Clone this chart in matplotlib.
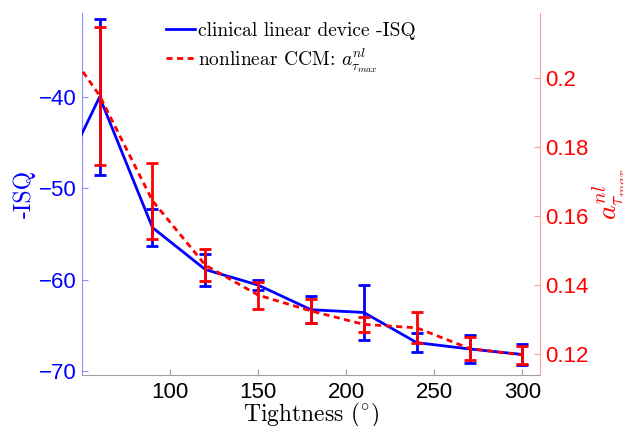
import matplotlib
matplotlib.use("Agg")
import matplotlib.pyplot as plt

plt.rcParams['mathtext.fontset'] = 'cm'
plt.rcParams['axes.formatter.use_mathtext'] = False

tightness = [30, 60, 90, 120, 150, 180, 210, 240, 270, 300]
isq = [-52.0, -40.0, -54.3, -58.9, -60.6, -63.3, -63.6, -66.9, -67.6, -68.2]
isq_err = [0, 8.5, 2.05, 1.75, 0.55, 1.5, 3.0, 1.0, 1.5, 1.1]
anl = [0.217, 0.195, 0.1645, 0.1458, 0.1371, 0.1325, 0.1286, 0.1276, 0.1216, 0.1197]
anl_err = [0, 0.020, 0.011, 0.0046, 0.0039, 0.0036, 0.0022, 0.0045, 0.0032, 0.0027]
xticks = [100, 150, 200, 250, 300]
left_ticks = [-70, -60, -50, -40]
right_ticks = [0.12, 0.14, 0.16, 0.18, 0.2]

tick_font = 'Liberation Sans'
cm_font = 'cmr10'

fig = plt.figure(figsize=(6.23, 4.26), dpi=100)
ax = fig.add_axes([0.1316, 0.1197, 0.7352, 0.8498])
ax2 = ax.twinx()

blue = '#0000ff'
red = '#ff0000'

h1, = ax.plot(tightness, isq, color=blue, lw=2.0, zorder=3)
ax.errorbar(tightness, isq, yerr=isq_err, fmt='none', ecolor=blue,
            elinewidth=2.0, capsize=4, capthick=2.0, zorder=3)
h2, = ax2.plot(tightness, anl, color=red, lw=2.0, ls=(0, (2.2, 1.6)), zorder=3)
ax2.errorbar(tightness, anl, yerr=anl_err, fmt='none', ecolor=red,
             elinewidth=2.0, capsize=4, capthick=2.0, zorder=3)

ax.set_xlim(50, 310)
ax.set_ylim(-70.45, -30.8)
ax2.set_ylim(0.1139, 0.219)

ax.set_xticks(xticks)
ax.set_yticks(left_ticks)
ax2.set_yticks(right_ticks)
ax2.set_yticklabels([f"{v:g}" for v in right_ticks])

for a in (ax, ax2):
    a.spines['top'].set_visible(False)
ax.spines['left'].set_color('#8c8cff')
ax.spines['bottom'].set_color('#a0a0a0')
ax.spines['right'].set_visible(False)
ax2.spines['left'].set_visible(False)
ax2.spines['bottom'].set_visible(False)
ax2.spines['right'].set_color('#ff9c9c')

ax.tick_params(axis='x', direction='in', length=4, color='#a0a0a0',
               labelsize=16, labelcolor='black', pad=5)
ax.tick_params(axis='y', direction='in', length=4, color='#8c8cff',
               labelsize=16, labelcolor=blue, pad=4)
ax2.tick_params(axis='y', direction='in', length=4, color='#ff9c9c',
                labelsize=16, labelcolor=red, pad=4)
for lab in ax.get_xticklabels() + ax.get_yticklabels() + ax2.get_yticklabels():
    lab.set_fontfamily(tick_font)

ax.set_xlabel(r'Tightness $(^{\circ})$', fontsize=17, family=cm_font, labelpad=-1.5)
ax.set_ylabel('-ISQ', fontsize=17, family=cm_font, color=blue, labelpad=2)
ax2.set_ylabel(r'$a^{nl}_{\tau_{max}}$', fontsize=20, color=red, labelpad=1)

leg = ax.legend([h1, h2], ['clinical linear device -ISQ',
                           r'nonlinear CCM: $a^{nl}_{\tau_{max}}$'],
                loc='upper left', bbox_to_anchor=(0.146, 1.023), frameon=False,
                prop={'family': cm_font, 'size': 14}, handlelength=1.45,
                handletextpad=0.2, labelspacing=0.3)

fig.savefig('out.png', dpi=100)
